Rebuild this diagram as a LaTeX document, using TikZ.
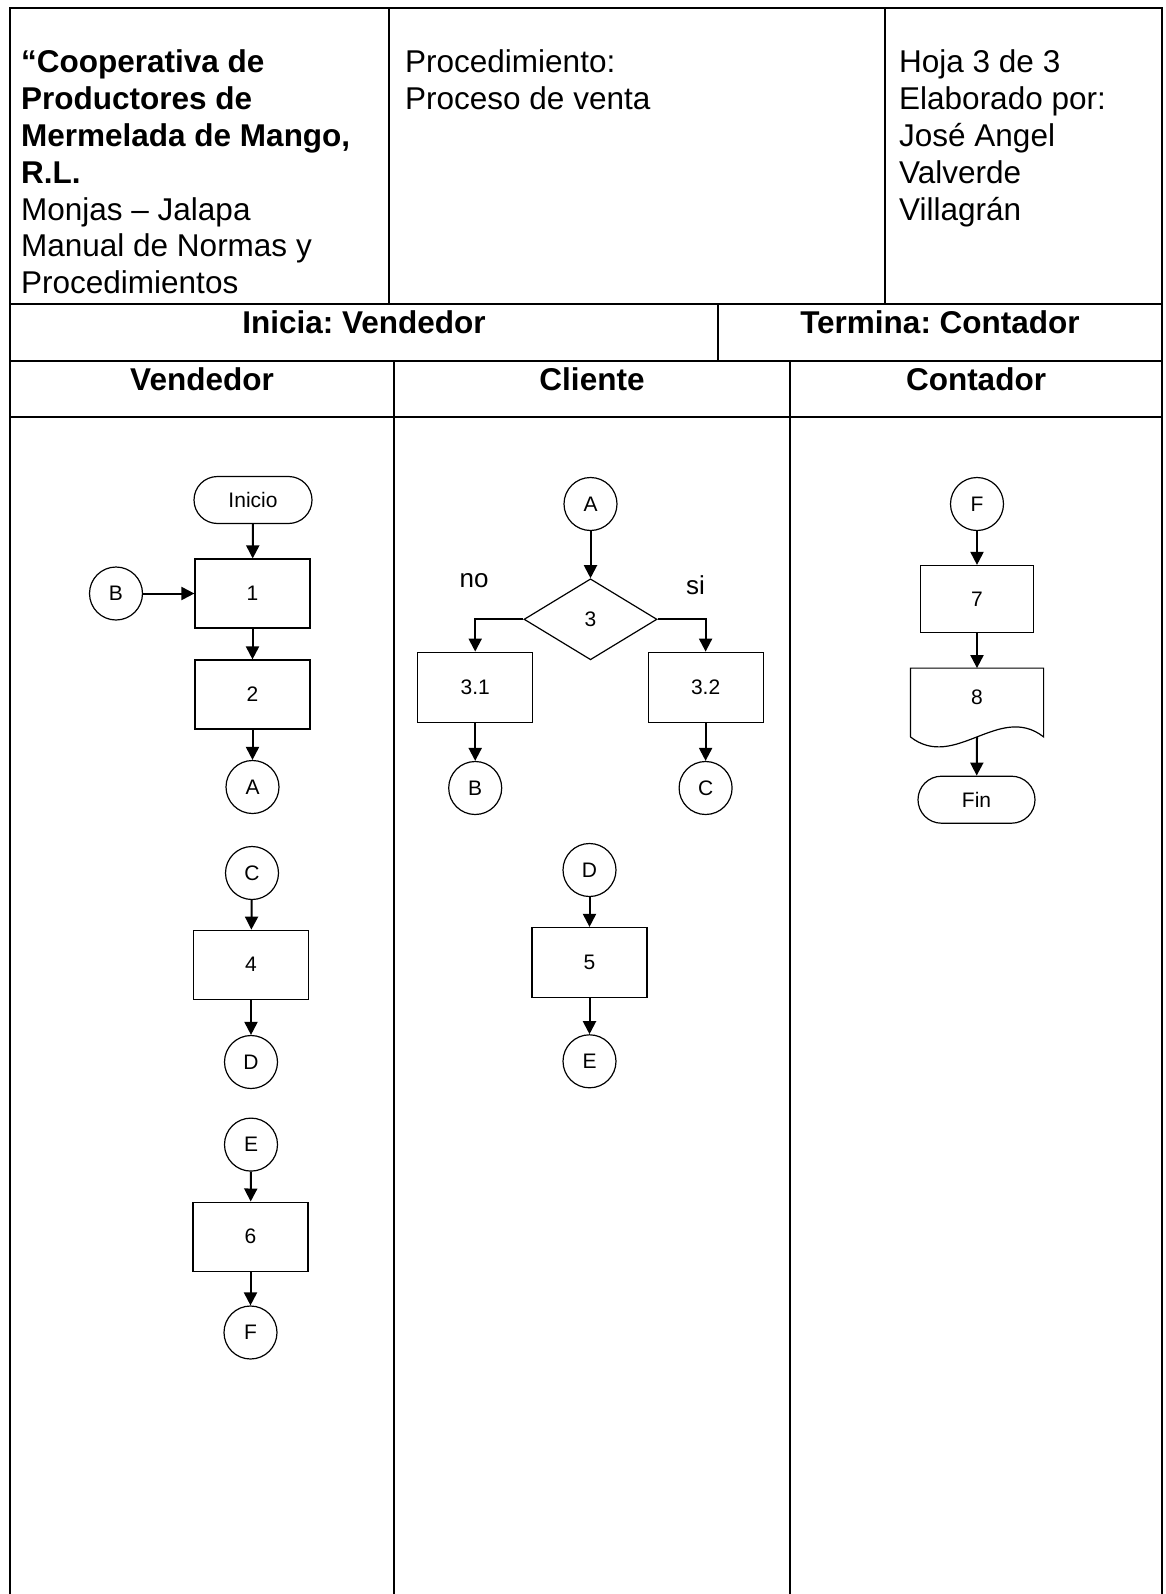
\documentclass[tikz,border=0pt]{standalone}
\usepackage{fontspec}
\setmainfont{Liberation Sans}
\usetikzlibrary{arrows.meta,shapes.geometric,shapes.misc,calc}
\frenchspacing
\begin{document}
\begin{tikzpicture}[x=1pt,y=-1pt,
  tline/.style={line width=2pt},
  hdr/.style={anchor=base west, inner sep=0pt, font=\fontsize{31.5}{36}\selectfont},
  hdrb/.style={anchor=base west, inner sep=0pt, font=\fontsize{31.5}{36}\selectfont\bfseries},
  captext/.style={anchor=base, inner sep=0pt, font=\fontsize{31.5}{36}\selectfont\bfseries},
  lbl/.style={anchor=base, inner sep=0pt, font=\fontsize{26}{30}\selectfont},
  procbox/.style={draw, rectangle, line width=1.2pt, minimum width=115pt, minimum height=69pt, inner sep=0pt, font=\fontsize{21}{24}\selectfont},
  connc/.style={draw, circle, line width=1.2pt, minimum size=53pt, inner sep=0pt, font=\fontsize{21}{24}\selectfont},
  termbox/.style={draw, rounded rectangle, line width=1.2pt, minimum width=118pt, minimum height=47pt, inner sep=0pt, font=\fontsize{21}{24}\selectfont},
  decbox/.style={draw, diamond, aspect=1.65, line width=1.2pt, minimum width=133pt, minimum height=81pt, inner sep=0pt, font=\fontsize{21}{24}\selectfont},
  flow/.style={line width=2pt, -{Triangle[length=13pt,width=13pt]}}
]
\useasboundingbox[fill=white] (0,0) rectangle (1166,1594);

% ---------- table ----------
\draw[tline] (10,1594) -- (10,8) -- (1162,8) -- (1162,1594);
\draw[tline] (10,304) -- (1162,304);
\draw[tline] (10,361) -- (1162,361);
\draw[tline] (10,417) -- (1162,417);
\draw[tline] (389,8) -- (389,304);
\draw[tline] (885,8) -- (885,304);
\draw[tline] (718,304) -- (718,361);
\draw[tline] (394,361) -- (394,1594);
\draw[tline] (790,361) -- (790,1594);

% ---------- header texts ----------
\node[hdrb] (t1a) at (21,73)    {“Cooperativa de};
\node[hdrb] (t1b) at (21,109.8) {Productores de};
\node[hdrb] (t1c) at (21,146.6) {Mermelada de Mango,};
\node[hdrb] (t1d) at (21,183.4) {R.L.};
\node[hdr]  (t1e) at (21,220.2) {Monjas – Jalapa};
\node[hdr]  (t1f) at (21,257)   {Manual de Normas y};
\node[hdr]  (t1g) at (21,293.8) {Procedimientos};

\node[hdr] (t2a) at (405,73)    {Procedimiento:};
\node[hdr] (t2b) at (405,109.8) {Proceso de venta};

\node[hdr] (t3a) at (899,73)    {Hoja 3 de 3};
\node[hdr] (t3b) at (899,109.8) {Elaborado por:};
\node[hdr] (t3c) at (899,146.6) {José Angel};
\node[hdr] (t3d) at (899,183.4) {Valverde};
\node[hdr] (t3e) at (899,220.2) {Villagrán};

\node[captext] (ini) at (364,333) {Inicia: Vendedor};
\node[captext] (ter) at (940,333) {Termina: Contador};

\node[captext] (lv) at (202,390) {Vendedor};
\node[captext] (lc) at (592,390) {Cliente};
\node[captext] (lk) at (976,390) {Contador};

% ---------- Vendedor lane ----------
\node[termbox] (inicio) at (253,500) {Inicio};
\node[procbox] (b1) at (252.5,593.5) {1};
\node[connc] (vB) at (116,593.5) {B};
\node[procbox] (b2) at (252.5,694.5) {2};
\node[connc] (vA) at (252.5,787) {A};
\node[connc] (vC) at (252,873) {C};
\node[procbox] (b4) at (251,964.7) {4};
\node[connc] (vD) at (251,1062) {D};
\node[connc] (vE) at (251,1144.6) {E};
\node[procbox] (b6) at (250.5,1236.6) {6};
\node[connc] (vF) at (250.5,1332.5) {F};

\draw[flow] (inicio) -- (b1);
\draw[flow] (vB) -- (b1);
\draw[flow] (b1) -- (b2);
\draw[flow] (b2) -- (vA);
\draw[flow] (vC) -- (b4);
\draw[flow] (b4) -- (vD);
\draw[flow] (vE) -- (b6);
\draw[flow] (b6) -- (vF);

% ---------- Cliente lane ----------
\node[connc] (cA) at (590.5,504) {A};
\node[decbox] (d3) at (590.5,619.3) {3};
\node[lbl] (lno) at (474,587) {no};
\node[lbl] (lsi) at (695.5,594) {si};
\node[procbox, minimum height=70pt] (b31) at (475.2,687.2) {3.1};
\node[procbox, minimum height=70pt] (b32) at (705.6,687.2) {3.2};
\node[connc] (cB) at (475.2,788) {B};
\node[connc] (cC) at (705.6,788) {C};
\node[connc] (cD) at (589.5,870) {D};
\node[procbox, minimum height=70pt] (b5) at (589.5,962.5) {5};
\node[connc] (cE) at (589.5,1061.3) {E};

\draw[flow] (cA) -- (d3);
\draw[flow] (d3.west) -| (b31.north);
\draw[flow] (d3.east) -| (b32.north);
\draw[flow] (b31) -- (cB);
\draw[flow] (b32) -- (cC);
\draw[flow] (cD) -- (b5);
\draw[flow] (b5) -- (cE);

% ---------- Contador lane ----------
\node[connc] (kF) at (977,504) {F};
\node[procbox, minimum width=113pt, minimum height=67pt] (b7) at (977,599) {7};
\node[minimum width=132.8pt, minimum height=68.4pt, inner sep=0pt] (d8) at (977,702.5) {};
\draw[line width=1.2pt] (d8.south west) -- (d8.north west) -- (d8.north east) -- (d8.south east)
  .. controls ($(d8.south east)+(-44.3,-34.6)$) and ($(d8.south west)+(44.3,34.6)$) .. (d8.south west);
\node[inner sep=0pt, font=\fontsize{21}{24}\selectfont] (d8l) at (977,697) {8};
\node[termbox, minimum width=117pt] (fin) at (976.5,799.7) {Fin};

\draw[flow] (kF) -- (b7);
\draw[flow] (b7) -- (d8.north);
\draw[flow] (d8.south) -- (fin);
\end{tikzpicture}
\end{document}
